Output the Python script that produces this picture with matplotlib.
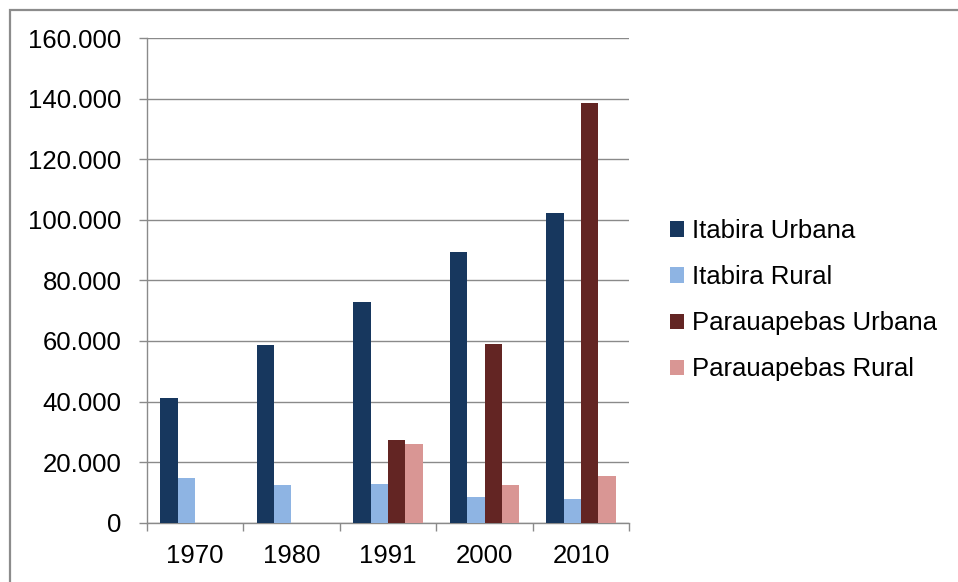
import numpy as np
import matplotlib.pyplot as plt
from matplotlib.ticker import FuncFormatter, FixedLocator
from matplotlib.patches import Rectangle

plt.rcParams['font.family'] = ['Liberation Sans', 'DejaVu Sans']

# Data
anos = ["1970", "1980", "1991", "2000", "2010"]
itabira_urbana = [41100, 58600, 72900, 89400, 102100]
itabira_rural = [14900, 12300, 12800, 8600, 7700]
parauapebas_urbana = [np.nan, np.nan, 27200, 58900, 138600]
parauapebas_rural = [np.nan, np.nan, 25900, 12300, 15300]

series = [
    ("Itabira Urbana", itabira_urbana, "#17375E"),
    ("Itabira Rural", itabira_rural, "#8EB4E3"),
    ("Parauapebas Urbana", parauapebas_urbana, "#632523"),
    ("Parauapebas Rural", parauapebas_rural, "#D99694"),
]

fig = plt.figure(figsize=(9.58, 5.82), dpi=100)
ax = fig.add_axes([0.1531, 0.1019, 0.5038, 0.8328])

x = np.arange(len(anos))
w = 0.18
for i, (nome, vals, cor) in enumerate(series):
    ax.bar(x + (i - 1.5) * w, vals, width=w, color=cor, label=nome, zorder=3)

ax.set_xlim(-0.5, len(anos) - 0.5)
ax.set_ylim(0, 160000)
ax.set_yticks(np.arange(0, 160001, 20000))
ax.yaxis.set_major_formatter(FuncFormatter(lambda v, p: f"{int(v):,}".replace(",", ".")))
ax.yaxis.grid(True, color="#8a8a8a", linewidth=1.0, zorder=0)

# category boundaries as ticks, labels at centers
ax.xaxis.set_major_locator(FixedLocator(np.arange(-0.5, len(anos), 1.0)))
ax.xaxis.set_major_formatter(FuncFormatter(lambda v, p: ""))
ax.xaxis.set_minor_locator(FixedLocator(x))
ax.set_xticklabels(anos, minor=True)

ax.tick_params(axis="x", which="major", length=6, color="#8a8a8a", width=1.0)
ax.tick_params(axis="x", which="minor", length=0, pad=15, labelsize=18.5)
ax.tick_params(axis="y", length=6, color="#8a8a8a", width=1.0, pad=12, labelsize=18.5)

for s in ["top", "right"]:
    ax.spines[s].set_visible(False)
for s in ["left", "bottom"]:
    ax.spines[s].set_color("#8a8a8a")
    ax.spines[s].set_linewidth(1.0)

ax.legend(loc="center left", bbox_to_anchor=(0.6994, 0.484), bbox_transform=fig.transFigure,
          frameon=False, fontsize=18.5, handlelength=0.55, handleheight=0.55,
          handletextpad=0.3, labelspacing=0.86, borderpad=0, borderaxespad=0)

# outer chart border
fig.patches.append(Rectangle((9.5 / 958, -0.1), 1.2, (582 - 9.5) / 582 + 0.1,
                             transform=fig.transFigure, fill=False,
                             edgecolor="#8c8c8c", linewidth=1.6))

fig.savefig("out.png", dpi=100)
